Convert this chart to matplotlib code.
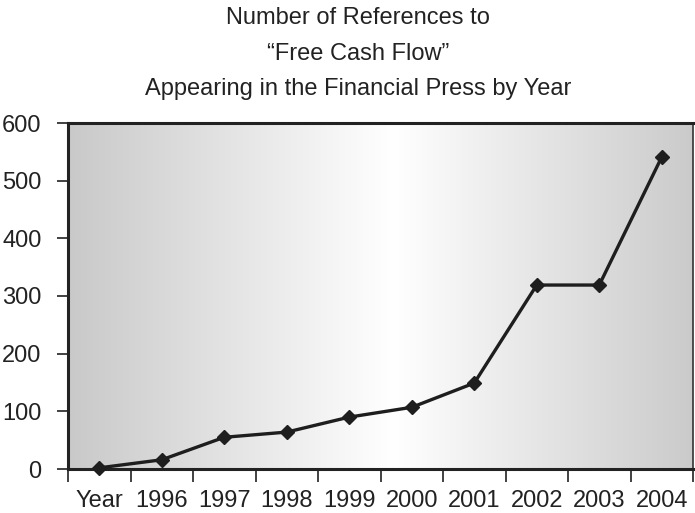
import matplotlib.pyplot as plt
import numpy as np
from matplotlib.colors import LinearSegmentedColormap

plt.rcParams['font.family'] = ['Liberation Sans', 'DejaVu Sans']

# data
categories = ['Year', '1996', '1997', '1998', '1999', '2000', '2001', '2002', '2003', '2004']
references = [2, 16, 55, 64, 90, 107, 149, 319, 319, 541]

fig = plt.figure(figsize=(6.95, 5.13), dpi=100)
ax = fig.add_axes([68 / 695, 44 / 513, 625 / 695, 346 / 513])

# horizontal gray -> white -> gray background
cmap = LinearSegmentedColormap.from_list(
    'bg', [(0.0, '#c9c9c9'), (0.52, '#ffffff'), (1.0, '#cbcbcb')])
grad = np.linspace(0, 1, 256).reshape(1, -1)
ax.imshow(grad, cmap=cmap, aspect='auto', extent=[-0.5, 9.5, 0, 600],
          zorder=0, interpolation='bicubic')

x = np.arange(len(categories))
ax.plot(x, references, color='#1e1e1e', lw=2.4, marker='D', ms=7.3,
        mec='#1e1e1e', mfc='#1e1e1e', zorder=3, clip_on=False)

ax.set_xlim(-0.5, 9.5)
ax.set_ylim(0, 600)

# ticks on category boundaries, labels at centers
ax.set_xticks(np.arange(-0.5, 10, 1))
ax.set_xticklabels([])
ax.set_xticks(x, minor=True)
ax.set_xticklabels(categories, minor=True, fontsize=17, color='#222222')
ax.tick_params(axis='x', which='major', direction='out', length=9,
               width=1.3, color='#333333')
ax.tick_params(axis='x', which='minor', length=0, pad=15)

ax.set_yticks(range(0, 601, 100))
ax.tick_params(axis='y', direction='out', length=8, width=1.3,
               color='#333333', labelsize=17, labelcolor='#222222', pad=11)

for side in ['left', 'top', 'bottom']:
    ax.spines[side].set_linewidth(2.2)
    ax.spines[side].set_color('#222222')
ax.spines['right'].set_linewidth(1.2)
ax.spines['right'].set_color('#333333')

# title, three lines
title_lines = ['Number of References to', '\u201cFree Cash Flow\u201d',
               'Appearing in the Financial Press by Year']
for line, base in zip(title_lines, [24, 60, 95]):
    fig.text(358 / 695, 1 - base / 513, line, ha='center', va='baseline',
             fontsize=17, color='#222222')

fig.savefig('out.png', dpi=100)
